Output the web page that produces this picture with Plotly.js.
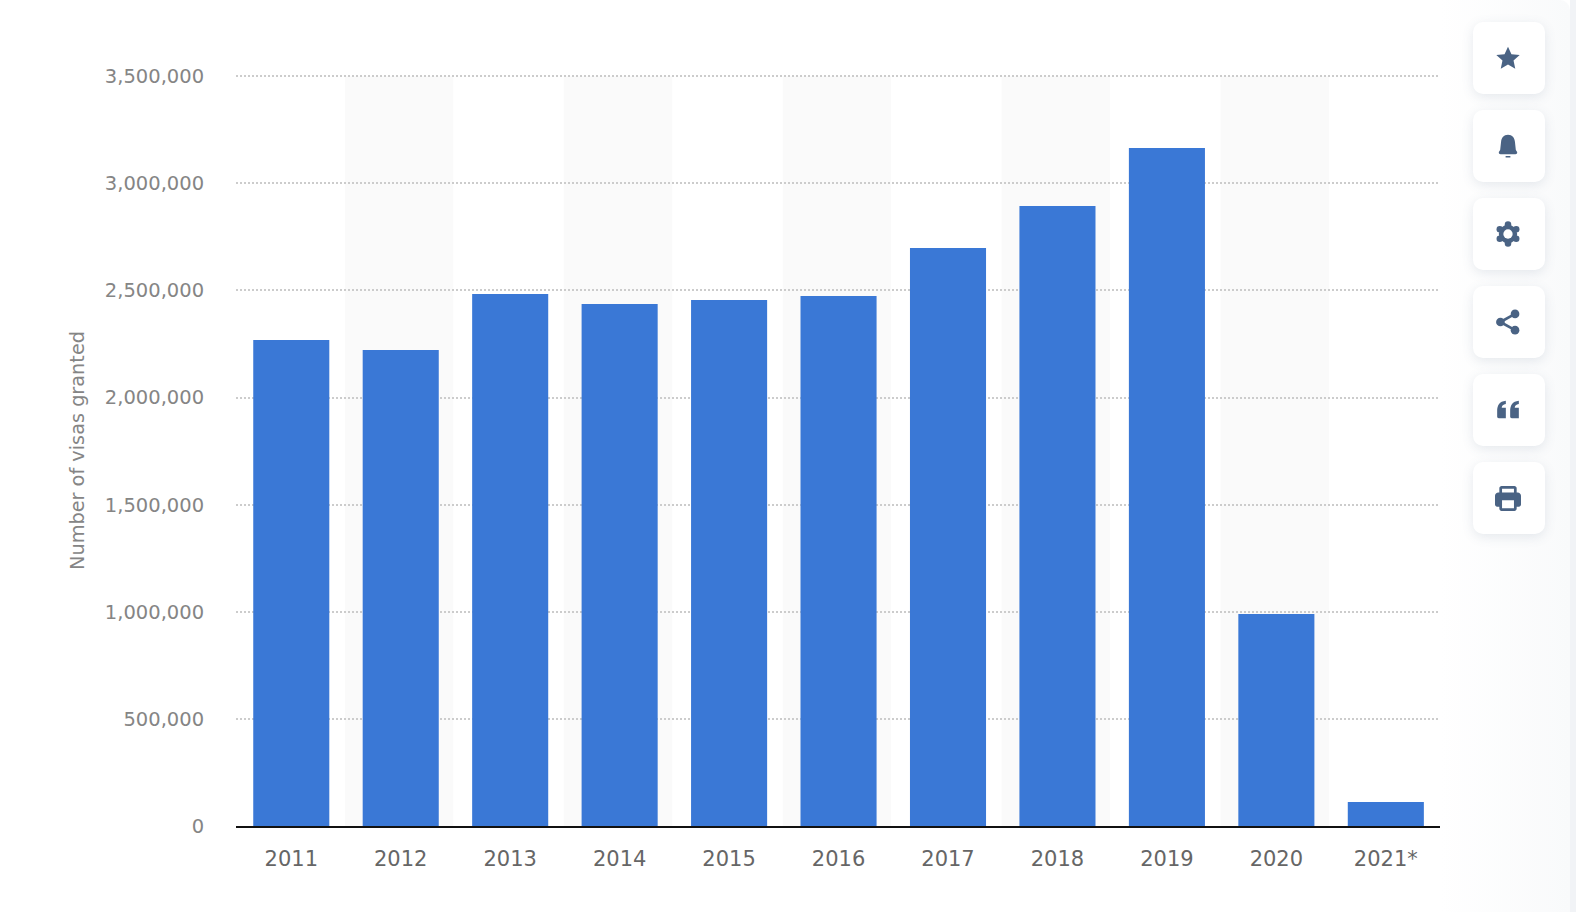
<!DOCTYPE html>
<html>
<head>
<meta charset="utf-8">
<script src="https://cdn.plot.ly/plotly-3.0.1.min.js"></script>
<style>
html,body{margin:0;padding:0;background:#fff;width:1576px;height:912px;overflow:hidden;}
#chart{position:absolute;left:0;top:0;width:1576px;height:912px;}
#rail{position:absolute;left:1400px;top:0;width:170px;height:912px;pointer-events:none;
 background:linear-gradient(to right,rgba(248,249,251,0) 0,rgba(248,249,251,0) 40px,#f9fafb 170px);border-top-right-radius:10px;}
#edge{position:absolute;left:1570px;top:0;width:6px;height:912px;background:#f1f3f6;}
.btn{position:absolute;left:1473px;width:72px;height:72px;background:#fff;border-radius:10px;
 box-shadow:0 3px 12px rgba(70,90,120,.13);display:flex;align-items:center;justify-content:center;}
.btn svg{width:26px;height:26px;fill:#4a6384;display:block;transform:translateX(-1px);}
</style>
</head>
<body>
<div id="chart"></div>
<div id="rail"></div><div id="edge"></div>
<div class="btn" style="top:22px"><svg viewBox="0 0 24 24"><path d="M12 1.5l3.2 7 7.6.8-5.7 5.1 1.6 7.5L12 18.1l-6.7 3.8 1.6-7.5L1.200 9.300l7.600-.8z"/></svg></div>
<div class="btn" style="top:110px"><svg viewBox="0 0 24 24"><path d="M12 1.500c4 0 6 2.800 6.400 6.500l.8 7.500c.3 1.200 1.300 1.500 1.300 2.600 0 .9-.7 1.400-1.600 1.400H5.100c-.9 0-1.600-.5-1.600-1.400 0-1.100 1-1.400 1.300-2.600l.8-7.500C6 4.300 8 1.500 12 1.500zM9.800 21.300h4.400v1.200H9.800z"/></svg></div>
<div class="btn" style="top:198px"><svg viewBox="0 0 24 24"><circle cx="12" cy="12" r="8.500"/><circle cx="12" cy="3.200" r="3"/><circle cx="12" cy="20.800" r="3"/><circle cx="4.400" cy="7.600" r="3"/><circle cx="19.600" cy="7.600" r="3"/><circle cx="4.400" cy="16.400" r="3"/><circle cx="19.600" cy="16.400" r="3"/><circle cx="12" cy="12" r="4.300" fill="#fff"/></svg></div>
<div class="btn" style="top:286px"><svg viewBox="0 0 24 24"><circle cx="18.500" cy="4.500" r="4"/><circle cx="5" cy="12" r="4"/><circle cx="18.500" cy="19.500" r="4"/><path d="M5 12L18.500 4.500M5 12l13.500 7.500" stroke="#4a6384" stroke-width="2.400" fill="none"/></svg></div>
<div class="btn" style="top:374px"><svg viewBox="0 0 24 24"><path d="M2 13c0-5 2-9 8-9.500v3c-2.500.3-3.600 1.400-3.800 3.500H10v9.500H3.500C2.600 19.500 2 18.900 2 18zM14 13c0-5 2-9 8-9.500v3c-2.500.3-3.600 1.400-3.800 3.500H22v9.500h-6.500c-.9 0-1.500-.6-1.500-1.500z"/></svg></div>
<div class="btn" style="top:462px"><svg viewBox="0 0 24 24"><path fill-rule="evenodd" d="M6 1h12c1 0 2 1 2 2v4h1c1.500 0 3 1.400 3 3v8c0 1.100-.9 2-2 2h-2v2c0 1-1 2-2 2H6c-1 0-2-1-2-2v-2H2c-1.100 0-2-.9-2-2v-8c0-1.600 1.500-3 3-3h1V3c0-1 1-2 2-2zm.500 2.500V7h11V3.500zM6.500 14v7.500h11V14z"/></svg></div>

<script>
var years = ['2011','2012','2013','2014','2015','2016','2017','2018','2019','2020','2021*'];
var visasGranted = [2269000,2222000,2484000,2437000,2456000,2474000,2698000,2895000,3165000,990000,112000];
var yTickValues = [0,500000,1000000,1500000,2000000,2500000,3000000,3500000];
var yTickLabels = ['0','500,000','1,000,000','1,500,000','2,000,000','2,500,000','3,000,000','3,500,000'];
var yAxisLabel = 'Number of visas granted';
var yGridTop = 3500000;
var yRangeTop = 3506000;

var FONT = '"DejaVu Sans", sans-serif';

// alternating background bands, one per even category slot
var bands = [];
years.forEach(function(y,i){
  if(i%2===1){
    bands.push({type:'rect',xref:'x',yref:'y',layer:'below',x0:i-0.51,x1:i+0.48,y0:0,y1:yGridTop,
      fillcolor:'#fafafa',line:{width:0}});
  }
});

var trace = {type:'bar',x:years,y:visasGranted,marker:{color:'#3a78d6',line:{width:0}},
  hoverinfo:'x+y'};

var layout = {
  autosize:false,width:1576,height:912,
  margin:{l:236,r:136,t:75,b:86,pad:0},
  paper_bgcolor:'#ffffff',plot_bgcolor:'#ffffff',
  bargap:0.305,showlegend:false,
  shapes:bands,
  font:{family:FONT},
  xaxis:{type:'category',range:[-0.505,10.495],fixedrange:true,
    tickfont:{family:FONT,size:21,color:'#666666'},
    ticks:'outside',ticklen:13,tickcolor:'rgba(0,0,0,0)',tickwidth:1,
    showgrid:false,zeroline:false,showline:true,linecolor:'#111111',linewidth:2},
  yaxis:{range:[0,yRangeTop],fixedrange:true,
    tickmode:'array',tickvals:yTickValues,ticktext:yTickLabels,
    tickfont:{family:FONT,size:19.5,color:'#858585'},
    ticks:'outside',ticklen:27,tickcolor:'rgba(0,0,0,0)',tickwidth:1,
    showgrid:true,gridcolor:'#cccccc',gridwidth:2,griddash:'2px,2px',
    zeroline:false,showline:false,
    title:{text:yAxisLabel,font:{family:FONT,size:19.3,color:'#858585'},standoff:15}}
};

Plotly.newPlot('chart',[trace],layout,{displayModeBar:false,responsive:false});
</script>
</body>
</html>
